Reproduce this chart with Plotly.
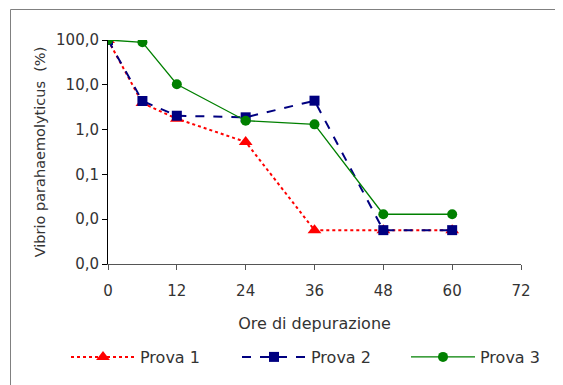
import plotly.graph_objects as go

hours = [0, 6, 12, 24, 36, 48, 60]
prova1 = [100, 3.9, 1.75, 0.53, 0.0057, 0.0057, 0.0057]
prova2 = [100, 4.35, 2.04, 1.88, 4.42, 0.0057, 0.0057]
prova3 = [100, 89, 10.3, 1.58, 1.31, 0.0129, 0.0129]

y_tickvals = [0.001, 0.01, 0.1, 1, 10, 100]
y_ticktext = ["0,0", "0,0", "0,1", "1,0", "10,0", "100,0"]
x_tickvals = [0, 12, 24, 36, 48, 60, 72]

FONT = "DejaVu Sans"
TXT = "#333333"

fig = go.Figure()
fig.add_trace(go.Scatter(
    x=hours, y=prova1, name="Prova 1", mode="lines+markers",
    line=dict(color="#FF0000", width=2, dash="dot"),
    marker=dict(symbol="triangle-up", size=12, color="#FF0000"),
    legend="legend", showlegend=True))
fig.add_trace(go.Scatter(
    x=hours, y=prova2, name="Prova 2", mode="lines+markers",
    line=dict(color="#000080", width=2, dash="dash"),
    marker=dict(symbol="square", size=10, color="#000080"),
    legend="legend2", showlegend=True))
fig.add_trace(go.Scatter(
    x=hours, y=prova3, name="Prova 3", mode="lines+markers",
    line=dict(color="#008000", width=1.3),
    marker=dict(symbol="circle", size=10, color="#008000"),
    legend="legend3", showlegend=True))

# page body has an 8px margin: the figure is drawn at screen offset (8, 8)
OFF = 8
FW, FH = 563 - OFF, 385 - OFF
L, R, T, B = 108 - OFF, 563 - 521, 40 - OFF, 385 - 264
W, H = FW - L - R, FH - T - B

def px_x(p):
    return (p - OFF - L) / W

def px_y(p):
    return 1 - (p - OFF - T) / H

def cx(p):
    return (p - OFF) / FW

def cy(p):
    return 1 - (p - OFF) / FH

leg_common = dict(orientation="h", yanchor="middle", xanchor="left",
                  xref="container", yref="container",
                  font=dict(family=FONT, size=16, color=TXT),
                  bgcolor="rgba(0,0,0,0)", itemwidth=64)

fig.update_layout(
    width=FW, height=FH,
    margin=dict(l=L, r=R, t=T, b=B, autoexpand=False),
    paper_bgcolor="white", plot_bgcolor="white",
    font=dict(family=FONT, size=15, color=TXT),
    legend=dict(x=cx(66), y=cy(357), **leg_common),
    legend2=dict(x=cx(237), y=cy(357), **leg_common),
    legend3=dict(x=cx(406), y=cy(357), **leg_common),
    xaxis=dict(range=[0, 72], tickvals=x_tickvals, showgrid=False, zeroline=False,
               showline=True, linecolor="#555555", linewidth=1,
               ticks="outside", ticklen=5, tickcolor="#555555",
               ticklabelstandoff=8,
               title=dict(text="Ore di depurazione", standoff=18,
                          font=dict(family=FONT, size=16, color=TXT)),
               tickfont=dict(family=FONT, size=15, color=TXT)),
    yaxis=dict(type="log", range=[-3, 2], tickvals=y_tickvals, ticktext=y_ticktext,
               showgrid=False, zeroline=False,
               showline=True, linecolor="#000000", linewidth=1,
               ticks="outside", ticklen=5, tickcolor="#000000",
               title=dict(text="Vibrio parahaemolyticus  (%)", standoff=6,
                          font=dict(family=FONT, size=14.5, color=TXT)),
               tickfont=dict(family=FONT, size=15, color=TXT)),
    shapes=[dict(type="rect", xref="paper", yref="paper",
                 x0=px_x(10.5), x1=px_x(620), y0=px_y(420), y1=px_y(9.5),
                 line=dict(color="#808080", width=1), layer="below")],
)

fig.write_html("out.html")
